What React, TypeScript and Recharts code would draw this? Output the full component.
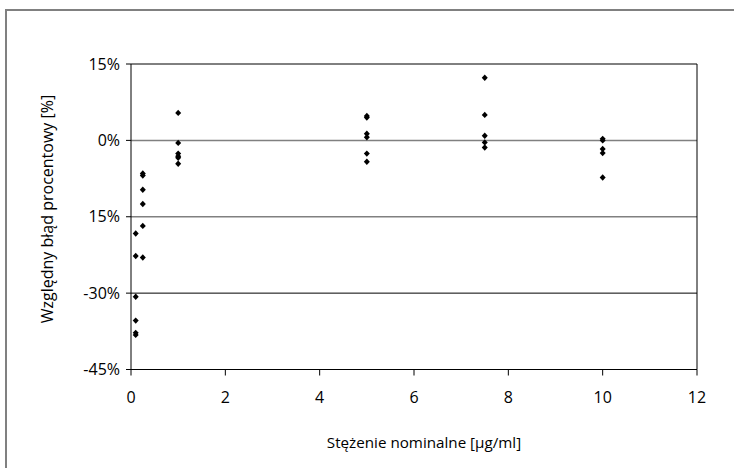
import React from 'react';
import { ScatterChart, Scatter, XAxis, YAxis, ReferenceLine } from 'recharts';

const concentrations = [0.1, 0.25, 1, 5, 7.5, 10];
const errAt0_1 = [-18.3, -22.7, -30.7, -35.4, -37.8, -38.2];
const errAt0_25 = [-6.5, -6.9, -9.7, -12.5, -16.8, -23.0];
const errAt1 = [5.4, -0.5, -2.6, -3.1, -3.4, -4.6];
const errAt5 = [4.8, 4.5, 1.3, 0.6, -2.6, -4.2];
const errAt7_5 = [12.3, 5.0, 0.9, -0.4, -1.4];
const errAt10 = [0.3, 0.0, -1.7, -2.5, -7.3];
const xTicks = [0, 2, 4, 6, 8, 10, 12];
const yTicks = [-45, -30, -15, 0, 15];
const yTickLabels = ['-45%', '-30%', '15%', '0%', '15%'];

const groups = [errAt0_1, errAt0_25, errAt1, errAt5, errAt7_5, errAt10];
const data = groups.flatMap((vals, i) => vals.map((y) => ({ x: concentrations[i], y })));

const FONT = '"Open Sans", sans-serif';
const FS = 16;

const Diamond = (props: any) => {
  const { cx, cy } = props;
  if (cx == null || cy == null) return null;
  const w = 3, h = 3.2;
  return <polygon points={`${cx},${cy - h} ${cx + w},${cy} ${cx},${cy + h} ${cx - w},${cy}`} fill="#000" />;
};

const XTitle = (props: any) => {
  const { viewBox } = props;
  return (
    <text x={viewBox.x + viewBox.width / 2 + 10} y={448} textAnchor="middle" fontSize={15.2} fontFamily={FONT} fill="#000">
      Stężenie nominalne [µg/ml]
    </text>
  );
};

const YTitle = () => {
  const cx = 53, cy = 209;
  return (
    <text x={cx} y={cy} transform={`rotate(-90, ${cx}, ${cy})`} textAnchor="middle" fontSize={FS} fontFamily={FONT} fill="#000">
      Względny błąd procentowy [%]
    </text>
  );
};

export default function App() {
  return (
    <div style={{ position: 'absolute', left: 0, top: 0, width: 734, height: 468, background: '#fff' }}>
      <div style={{ position: 'absolute', left: 5, top: 9, right: 0, bottom: 0, borderTop: '2px solid #808080', borderLeft: '2px solid #808080' }} />
      <div style={{ position: 'absolute', left: 0, top: 0 }}>
        <ScatterChart width={734} height={468} margin={{ top: 64, right: 37, bottom: 38.5, left: 41 }}>
          <XAxis
            type="number"
            dataKey="x"
            domain={[0, 12]}
            ticks={xTicks}
            interval={0}
            height={60}
            axisLine={{ stroke: '#000' }}
            tickLine={{ stroke: '#000' }}
            tickSize={6}
            tickMargin={16}
            tick={{ fill: '#000', fontSize: FS, fontFamily: FONT }}
            label={<XTitle />}
          />
          <YAxis
            type="number"
            dataKey="y"
            domain={[-45, 15]}
            ticks={yTicks}
            interval={0}
            width={90}
            axisLine={{ stroke: '#000' }}
            tickLine={{ stroke: '#000' }}
            tickSize={5}
            tickMargin={6}
            tickFormatter={(v: number) => yTickLabels[yTicks.indexOf(v)]}
            tick={{ fill: '#000', fontSize: FS, fontFamily: FONT }}
            label={<YTitle />}
          />
          <ReferenceLine y={0} stroke="#808080" strokeWidth={1.5} />
          <ReferenceLine y={-15} stroke="#808080" strokeWidth={1.5} />
          <ReferenceLine y={-30} stroke="#000" strokeWidth={1} />
          <ReferenceLine y={15} stroke="#000" strokeWidth={1} />
          <ReferenceLine x={12} stroke="#000" strokeWidth={1} />
          <Scatter data={data} shape={<Diamond />} isAnimationActive={false} />
        </ScatterChart>
      </div>
    </div>
  );
}
